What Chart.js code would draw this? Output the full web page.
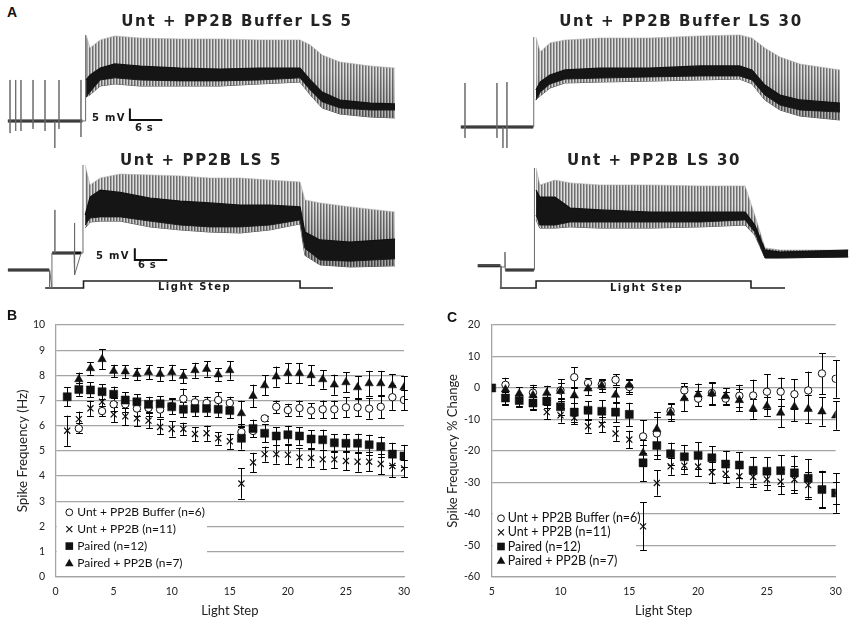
<!DOCTYPE html>
<html><head><meta charset="utf-8">
<script src="https://cdn.jsdelivr.net/npm/chart.js@4.4.1/dist/chart.umd.min.js"></script>
<style>
html,body{margin:0;padding:0;background:#fff;}
body{width:851px;height:622px;position:relative;overflow:hidden;}
canvas{position:absolute;}
.t{position:absolute;white-space:nowrap;color:#1a1a1a;font-family:"DejaVu Sans",sans-serif;z-index:5;}
.ttl{font-size:15px;font-weight:bold;letter-spacing:1.6px;line-height:16px;text-align:center;width:400px;color:#222;}
.sm{font-size:10px;font-weight:bold;line-height:10px;letter-spacing:1.3px;}
.lab{position:absolute;font-family:"Liberation Sans",Arial,sans-serif;font-weight:bold;font-size:14px;line-height:14px;color:#111;z-index:5;}
</style></head><body>

<div class="lab" style="left:7px;top:5px;">A</div>
<div class="lab" style="left:7px;top:308px;">B</div>
<div class="lab" style="left:447px;top:310px;">C</div>

<div class="t ttl" style="left:37px;top:13px;">Unt + PP2B Buffer LS 5</div>
<div class="t ttl" style="left:1px;top:152px;">Unt + PP2B LS 5</div>
<div class="t ttl" style="left:481px;top:13px;">Unt + PP2B Buffer LS 30</div>
<div class="t ttl" style="left:454px;top:152px;">Unt + PP2B LS 30</div>

<div class="t sm" style="left:92px;top:112.5px;">5 mV</div>
<div class="t sm" style="left:135px;top:122.5px;letter-spacing:0.6px;">6 s</div>
<div class="t sm" style="left:96px;top:250.5px;">5 mV</div>
<div class="t sm" style="left:138px;top:259.5px;letter-spacing:0.6px;">6 s</div>
<div class="t sm" style="left:158px;top:282px;letter-spacing:1.5px;">Light Step</div>
<div class="t sm" style="left:610px;top:283px;letter-spacing:1.5px;">Light Step</div>

<canvas id="trA1" width="395" height="127" style="left:5px;top:28px;"></canvas>
<canvas id="trA2" width="395" height="135" style="left:5px;top:158px;"></canvas>
<canvas id="trA3" width="421" height="127" style="left:430px;top:28px;"></canvas>
<canvas id="trA4" width="421" height="135" style="left:430px;top:158px;"></canvas>
<canvas id="chartB" width="425" height="322" style="left:0px;top:300px;"></canvas>
<canvas id="chartC" width="426" height="322" style="left:425px;top:300px;"></canvas>

<script>
// ================= DATA =================
// ---- Panel B: spike frequency (Hz) per light step ----
const stepsB = [1,2,3,4,5,6,7,8,9,10,11,12,13,14,15,16,17,18,19,20,21,22,23,24,25,26,27,28,29,30];
const bufferHz    = [null,5.89,null,6.58,6.85,6.85,6.68,6.7,6.64,6.78,7.07,6.93,6.9,7.02,6.9,5.75,5.79,6.29,6.75,6.62,6.7,6.6,6.65,6.65,6.73,6.73,6.68,6.75,7.13,7.02];
const bufferHzErr = [0,0.2,0,0.2,0.25,0.3,0.3,0.3,0.3,0.3,0.4,0.25,0.25,0.3,0.25,0.3,0.25,0.1,0.25,0.25,0.3,0.3,0.35,0.35,0.4,0.35,0.4,0.45,0.5,0.4];
const untHz       = [5.8,6.26,6.69,6.95,6.45,6.37,6.29,6.2,5.95,5.87,5.87,5.67,5.7,5.5,5.38,3.7,4.54,4.87,4.87,4.85,4.74,4.72,4.66,4.66,4.6,4.57,4.57,4.48,4.4,4.3];
const untHzErr    = [0.6,0.3,0.3,0.35,0.3,0.35,0.3,0.3,0.3,0.3,0.25,0.28,0.3,0.25,0.3,0.6,0.38,0.3,0.38,0.38,0.38,0.35,0.38,0.35,0.38,0.4,0.38,0.4,0.45,0.35];
const pairedHz    = [7.15,7.44,7.42,7.35,7.25,7.02,6.95,6.85,6.87,6.75,6.65,6.68,6.68,6.65,6.6,5.5,5.89,5.7,5.59,5.64,5.59,5.47,5.44,5.32,5.3,5.3,5.24,5.17,4.87,4.79];
const pairedHzErr = [0.37,0.25,0.3,0.3,0.3,0.3,0.3,0.3,0.3,0.3,0.3,0.3,0.3,0.3,0.3,0.45,0.35,0.35,0.35,0.35,0.35,0.35,0.4,0.35,0.35,0.38,0.4,0.4,0.45,0.45];
const pairedPP2BHz    = [null,7.84,8.28,8.64,8.17,8.15,8.05,8.12,8.05,8.12,7.97,8.2,8.25,8.03,8.2,6.49,7.18,7.6,7.95,8.08,8.08,8.0,7.84,7.63,7.72,7.52,7.68,7.68,7.6,7.52];
const pairedPP2BHzErr = [0,0.27,0.25,0.4,0.25,0.25,0.25,0.28,0.27,0.3,0.28,0.3,0.3,0.25,0.37,0.5,0.45,0.4,0.4,0.4,0.4,0.4,0.37,0.4,0.4,0.45,0.5,0.5,0.45,0.45];
const ticksB = {min:0, max:10, step:1};

// ---- Panel C: spike frequency % change per light step ----
const stepsC = [5,6,7,8,9,10,11,12,13,14,15,16,17,18,19,20,21,22,23,24,25,26,27,28,29,30];
const bufferPct    = [null,1.0,null,-1.5,null,-0.8,3.4,1.6,1.1,2.6,0.3,-15.4,-14.5,-7.4,-0.8,-3.4,-1.6,-3.4,-2.5,-2.4,-1.2,-1.2,-2.0,-0.8,4.6,2.9];
const bufferPctErr = [0,2.2,0,2.5,0,3.5,3.2,1.5,1.5,1.8,2.3,5.2,6.8,2.5,2.3,2.5,3.5,2.0,3.5,5.0,5.5,4.5,4.8,6.0,6.5,6.0];
const untPct       = [null,-3.2,-4.0,-4.8,-7.7,-8.7,-9.5,-12.2,-11.6,-14.5,-16.4,-44.0,-30.2,-24.9,-24.7,-25.0,-26.8,-27.3,-28.1,-28.3,-29.1,-29.8,-29.1,-30.9,-32.3,-33.4];
const untPctErr    = [0,2,2,2,2.3,2.3,2,2,2.5,2.3,2.8,7.6,4,2.7,2.5,3,3.3,3,3.5,3.2,3.3,4,4.3,4.3,5.5,3.5];
const pairedPct    = [0,-3.2,-4.0,-4.8,-4.2,-6.0,-7.7,-7.1,-7.4,-7.7,-8.4,-23.8,-18.3,-20.9,-21.9,-21.5,-22.2,-24.2,-24.5,-26.2,-26.5,-26.3,-27.0,-28.7,-32.3,-33.4];
const pairedPctErr = [0,2.3,1.8,2.3,2.3,2.7,3,2.8,3.5,3.2,3.7,5.8,4.3,3.5,3.8,4.2,3.7,4.2,4,4.3,4.5,5,5.5,6,6,6.3];
const pairedPP2BPct    = [null,-0.5,-1.8,-2.3,-1.6,-1.0,-2.4,-0.2,0.7,-2.2,0.8,-20.7,-13.1,-7.9,-3.3,-2.1,-1.8,-2.6,-3.9,-6.6,-5.8,-7.9,-6.0,-6.7,-7.5,-8.8];
const pairedPP2BPctErr = [0,2.5,2,2.5,2.3,2.5,2.5,2,2,2.5,2,4,4,2.7,4,3.5,3.5,2.5,3.5,3.2,3,4.5,4.5,4.5,4.5,4.5];
const ticksC = {min:-60, max:20, step:10};

const seriesLabels = ['Unt + PP2B Buffer (n=6)','Unt + PP2B (n=11)','Paired (n=12)','Paired + PP2B (n=7)'];

// ---- Panel A traces: time (s from light onset) and membrane potential (mV rel. rest) ----
// A1: Unt + PP2B Buffer LS 5
const a1Time    = [0.4,1.1,3.0,5.7,10.4,17.8,25.2,32.6,40.0,41.9,44.1,47.4,53.0,57.6];
const a1Peak    = [36.9,31.3,34.8,36.5,35.6,35.2,35.2,34.8,34.8,32.6,28.3,25.3,23.6,22.7];
const a1NoiseHi = [17.6,19.7,22.7,24.5,23.6,22.7,22.3,22.7,22.7,17.6,12.4,9.0,7.7,7.3];
const a1NoiseLo = [10.3,12.4,17.6,18.5,17.6,17.2,17.2,17.6,18.5,13.3,8.2,5.6,4.7,4.7];
const a1Trough  = [10.3,11.2,15.0,15.9,15.0,15.0,15.0,15.9,16.7,11.2,5.6,3.0,1.7,1.3];
const a1PreT = [-14.1,-13.7,-13.7,-13.7,-13.7,-12.65,-12.65,-12.65,-12.65,-11.67,-11.67,-11.67,-11.67,-9.44,-9.44,-9.44,-9.44,-7.22,-7.22,-7.22,-7.22,-5.4,-5.4,-5.4,-4.63,-4.63,-4.63,-4.63,-0.56,-0.56,-0.56,-0.56,0.3,0.3];
const a1PreV = [0,0,17.6,-5.2,0,0,17.6,-4.3,0,0,17.6,-4.3,0,0,17.6,-3.4,0,0,17.6,-4.3,0,0,-11.6,0,0,17.6,-3.4,0,0,17.6,-6.9,0,0,36.9];
const a1BaseT = [-14.1,-0.3];
const a1BaseV = [0,0];
const a1BarT = [8.5,8.5,14.5];
const a1BarV = [5.4,0.4,0.4];

// A2: Unt + PP2B LS 5
const a2Time    = [0.3,1.2,3.1,6.8,12.3,17.9,23.4,29.0,34.5,40.1,41.0,43.8,49.4,57.7];
const a2Peak    = [43.8,35.2,38.2,39.9,39.5,39.1,38.2,38.2,37.3,36.5,28.8,27.5,25.8,23.6];
const a2NoiseHi = [22.3,30.0,33.0,32.0,29.6,28.3,27.5,26.6,26.6,25.8,15.0,11.6,10.7,12.0];
const a2NoiseLo = [18.0,21.0,21.5,21.5,19.7,18.0,17.2,17.2,18.0,20.2,8.0,3.0,2.5,3.5];
const a2Trough  = [16.7,19.3,19.7,19.7,17.2,15.9,15.0,14.6,15.9,18.5,5.0,0.9,0.0,0.5];
const a2PreT = [-14.0,-6.3,-6.3,-6.25,-5.85,-5.85,-5.3,-5.3,-5.3,-1.76,-1.76,-1.6,-1.6,-0.45,-0.1,-0.1];
const a2PreV = [-1.3,-1.3,-9.0,-1.3,-9.0,6.0,6.0,24.5,6.0,6.0,18.9,6.0,-3.4,6.0,6.0,43.8];
const a2BaseT = [-14.0,-6.35,-6.0,-5.8,-0.4];
const a2BaseV = [-1.3,-1.3,null,6.0,6.0];
const a2BarT = [9.5,9.5,15.5];
const a2BarV = [8.0,3.0,3.0];
const a2LightT = [-7.1,0,0,40.1,40.1,46.2];
const a2LightOn = [0,0,1,1,0,0];

// A3: Unt + PP2B Buffer LS 30
const a3Time    = [0.3,1.1,2.9,5.7,12.2,21.4,30.7,38.0,40.3,42.7,45.5,49.2,56.6];
const a3Peak    = [38.6,32.2,36.1,37.3,38.2,38.2,39.1,39.5,38.2,33.9,30.0,27.0,24.5];
const a3NoiseHi = [15.9,19.3,22.3,24.5,25.3,25.3,26.2,26.2,24.5,18.0,13.7,11.6,10.3];
const a3NoiseLo = [11.6,15.0,18.5,20.6,21.0,21.5,21.9,21.9,20.2,13.7,9.4,7.3,6.4];
const a3Trough  = [11.6,13.3,16.7,18.9,19.3,19.7,20.2,20.6,18.5,11.6,7.3,4.7,3.0];
const a3PreT = [-13.6,-12.83,-12.83,-12.83,-12.83,-6.91,-6.91,-6.91,-6.91,-5.8,-5.8,-5.8,-5.06,-5.06,-5.06,-5.06,-0.1,-0.1];
const a3PreV = [0,0,18.9,-4.7,0,0,18.9,-4.7,0,0,-9.0,0,0,19.3,-9.0,0,0,38.6];
const a3BaseT = [-13.6,-0.2];
const a3BaseV = [0,0];

// A4: Unt + PP2B LS 30
const a4Time    = [0.2,0.9,3.7,6.5,12.0,21.3,30.6,38.9,40.7,42.6,45.4,58.0];
const a4Peak    = [42.5,35.2,37.3,36.1,35.2,35.2,34.8,34.8,22.3,8.2,7.3,7.3];
const a4NoiseHi = [33.0,30.0,30.0,25.3,24.5,23.6,23.6,23.6,18.0,7.3,6.4,7.3];
const a4NoiseLo = [22.3,18.0,18.0,19.3,19.3,19.3,19.3,20.2,15.0,3.9,3.9,4.3];
const a4Trough  = [20.2,16.7,16.7,17.2,16.7,16.7,17.2,18.0,13.7,3.9,3.9,4.3];
const a4PreT = [-10.6,-6.85,-6.3,-6.3,-6.2,-5.56,-5.56,-5.5,-0.1,-0.1];
const a4PreV = [0.5,0.5,0.5,-8.6,0,0,6.4,-1.3,-1.3,42.5];
const a4BaseT = [-10.6,-6.4,-6.0,-5.5,-0.2];
const a4BaseV = [0.5,0.5,null,-1.3,-1.3];
const a4LightT = [-6.5,0.2,0.2,40.0,40.0,46.3];
const a4LightOn = [0,0,1,1,0,0];

// ================= HELPERS =================
const pts = (xs, ys) => xs.map((x, i) => ({x: x, y: ys[i]}));

// dense "spike" texture: thin vertical lines, lighter toward the spike tips
function stripeCanvas(h) {
  const c = document.createElement('canvas'); c.width = 3; c.height = h;
  const g = c.getContext('2d');
  const cols = [['#6e6e6e', '#2e2e2e'], ['#a6a6a6', '#5a5a5a'], ['#dedede', '#8a8a8a']];
  cols.forEach((pair, i) => {
    const gr = g.createLinearGradient(0, 0, 0, h);
    gr.addColorStop(0, pair[0]); gr.addColorStop(0.35, pair[0]); gr.addColorStop(1, pair[1]);
    g.fillStyle = gr; g.fillRect(i, 0, 1, h);
  });
  return c;
}

function traceChart(id, d, range) {
  const cv = document.getElementById(id);
  const ctx = cv.getContext('2d');
  const pat = ctx.createPattern(stripeCanvas(cv.height), 'repeat');
  const ds = [
    {data: pts(d.t, d.hi), borderColor: '#111', borderWidth: 1.2, backgroundColor: '#151515', fill: '+1'},
    {data: pts(d.t, d.lo), borderColor: '#222', borderWidth: 1, fill: false},
    {data: pts(d.t, d.peak), borderColor: '#b0b0b0', borderWidth: 0.6, backgroundColor: pat, fill: '+1'},
    {data: pts(d.t, d.trough), borderColor: '#555', borderWidth: 1, fill: false},
    {data: pts(d.preT, d.preV), borderColor: '#6a6a6a', borderWidth: 1, fill: false},
    {data: pts(d.baseT, d.baseV), borderColor: '#111', borderWidth: 3, fill: false, spanGaps: false}
  ];
  if (d.barT) ds.push({data: pts(d.barT, d.barV), borderColor: '#111', borderWidth: 2, fill: false, borderCapStyle: 'butt'});
  if (d.lightT) ds.push({data: pts(d.lightT, d.lightOn), yAxisID: 'yL', borderColor: '#222', borderWidth: 1.6, fill: false});
  return new Chart(ctx, {
    type: 'line',
    data: {datasets: ds},
    options: {
      responsive: false, animation: false, events: [],
      layout: {padding: 0},
      elements: {point: {radius: 0}, line: {tension: 0, borderJoinStyle: 'miter'}},
      plugins: {legend: {display: false}, tooltip: {enabled: false}},
      scales: {
        x: {type: 'linear', display: false, min: range.x[0], max: range.x[1]},
        y: {type: 'linear', display: false, min: range.y[0], max: range.y[1]},
        yL: {type: 'linear', display: false, min: -0.714, max: 18.571}
      }
    }
  });
}

function drawMarker(ctx, style, x, y) {
  ctx.save();
  ctx.lineWidth = 1; ctx.strokeStyle = '#111'; ctx.fillStyle = '#111';
  ctx.beginPath();
  if (style === 'circle') {
    ctx.arc(x, y, 3.4, 0, Math.PI * 2); ctx.fillStyle = '#fff'; ctx.fill(); ctx.stroke();
  } else if (style === 'crossRot') {
    ctx.lineWidth = 1.2;
    ctx.moveTo(x - 3, y - 3); ctx.lineTo(x + 3, y + 3); ctx.moveTo(x + 3, y - 3); ctx.lineTo(x - 3, y + 3); ctx.stroke();
  } else if (style === 'rect') {
    ctx.fillRect(x - 3.8, y - 3.8, 7.6, 7.6);
  } else if (style === 'triangle') {
    ctx.moveTo(x, y - 4.3); ctx.lineTo(x + 4.3, y + 3.2); ctx.lineTo(x - 4.3, y + 3.2); ctx.closePath(); ctx.fill();
  }
  ctx.restore();
}

const boxLegendPlugin = {
  id: 'boxLegend',
  beforeDatasetsDraw(chart, args, o) {
    const {ctx, chartArea: a} = chart;
    ctx.save();
    ctx.fillStyle = '#fff';
    ctx.fillRect(a.left + 1.2, o.boxTop, o.boxRight - a.left - 1.2, a.bottom - 1.2 - o.boxTop);
    ctx.font = o.font; ctx.textBaseline = 'middle'; ctx.textAlign = 'left';
    chart.data.datasets.forEach((ds, i) => {
      const y = o.firstRow + i * o.rowGap;
      drawMarker(ctx, ds.pointStyle, o.markerX, y);
      ctx.fillStyle = '#111';
      ctx.fillText(ds.label, o.textX, y);
    });
    ctx.restore();
  }
};

const errorBarPlugin = {
  id: 'errorBars',
  beforeDatasetsDraw(chart) {
    const {ctx} = chart; const ys = chart.scales.y;
    ctx.save(); ctx.strokeStyle = '#000'; ctx.lineWidth = 1;
    chart.data.datasets.forEach((ds, i) => {
      const meta = chart.getDatasetMeta(i);
      meta.data.forEach((pt, j) => {
        const v = ds.data[j].y, e = ds.errorBars[j];
        if (v === null || v === undefined || !e) return;
        const x = Math.round(pt.x) + 0.5;
        const y1 = ys.getPixelForValue(v + e), y2 = ys.getPixelForValue(v - e);
        ctx.beginPath();
        ctx.moveTo(x, y1); ctx.lineTo(x, y2);
        ctx.moveTo(x - 3.4, Math.round(y1) + 0.5); ctx.lineTo(x + 3.4, Math.round(y1) + 0.5);
        ctx.moveTo(x - 3.4, Math.round(y2) + 0.5); ctx.lineTo(x + 3.4, Math.round(y2) + 0.5);
        ctx.stroke();
      });
    });
    ctx.restore();
  }
};

function statsChart(id, steps, vals, errs, tk, cfg) {
  const styles = [
    {pointStyle: 'circle', radius: 3.7, backgroundColor: '#fff', borderColor: '#111', borderWidth: 1, order: 4},
    {pointStyle: 'crossRot', radius: 4.3, backgroundColor: '#111', borderColor: '#111', borderWidth: 1.2, order: 3},
    {pointStyle: 'rect', radius: 5.7, backgroundColor: '#111', borderColor: '#111', borderWidth: 0.5, order: 2},
    {pointStyle: 'triangle', radius: 4.9, backgroundColor: '#111', borderColor: '#111', borderWidth: 0.5, order: 1}
  ];
  const datasets = vals.map((v, i) => ({
    label: seriesLabels[i],
    data: pts(steps, v),
    errorBars: errs[i],
    showLine: false,
    pointStyle: styles[i].pointStyle,
    pointRadius: styles[i].radius,
    pointBackgroundColor: styles[i].backgroundColor,
    pointBorderColor: styles[i].borderColor,
    pointBorderWidth: styles[i].borderWidth,
    order: styles[i].order
  }));
  const grey = '#a4a4a4';
  return new Chart(document.getElementById(id), {
    type: 'line',
    data: {datasets: datasets},
    plugins: [boxLegendPlugin, errorBarPlugin],
    options: {
      responsive: false, animation: false, events: [],
      layout: {padding: {left: 0, top: 25, right: cfg.padRight, bottom: 0}},
      plugins: {legend: {display: false}, tooltip: {enabled: false}, boxLegend: cfg.legend},
      scales: {
        x: {
          type: 'linear', min: cfg.xMin, max: 30,
          ticks: {stepSize: 5, padding: 9, color: '#222', font: {family: 'Lato', size: 10.5}, maxRotation: 0, autoSkip: false},
          grid: {display: false, drawTicks: false},
          border: {display: true, color: grey, width: 1.3},
          title: {display: true, text: 'Light Step', color: '#222', font: {family: 'Lato', size: 13}, padding: {top: 0, bottom: 3}},
          afterFit(s) { s.height = 45.3; }
        },
        y: {
          type: 'linear', min: tk.min, max: tk.max,
          ticks: {stepSize: tk.step, padding: cfg.yTickPad, color: '#222', font: {family: 'Lato', size: 10.5}},
          grid: {color: grey, lineWidth: 1.3, drawTicks: false},
          border: {display: true, color: grey, width: 1.3},
          title: {display: true, text: cfg.yTitle, color: '#222', font: {family: 'Lato', size: cfg.yTitleSize}, padding: {top: cfg.yTitlePad, bottom: 0}},
          afterFit(s) { s.width = cfg.yWidth; }
        }
      }
    }
  });
}

// ================= BUILD =================
traceChart('trA1', {t: a1Time, peak: a1Peak, hi: a1NoiseHi, lo: a1NoiseLo, trough: a1Trough,
  preT: a1PreT, preV: a1PreV, baseT: a1BaseT, baseV: a1BaseV, barT: a1BarT, barV: a1BarV},
  {x: [-14.63, 58.52], y: [-14.6, 39.9]});
traceChart('trA2', {t: a2Time, peak: a2Peak, hi: a2NoiseHi, lo: a2NoiseLo, trough: a2Trough,
  preT: a2PreT, preV: a2PreV, baseT: a2BaseT, baseV: a2BaseV, barT: a2BarT, barV: a2BarV,
  lightT: a2LightT, lightOn: a2LightOn},
  {x: [-14.54, 58.61], y: [-11.16, 46.78]});
traceChart('trA3', {t: a3Time, peak: a3Peak, hi: a3NoiseHi, lo: a3NoiseLo, trough: a3Trough,
  preT: a3PreT, preV: a3PreV, baseT: a3BaseT, baseV: a3BaseV},
  {x: [-19.31, 58.65], y: [-12.02, 42.49]});
traceChart('trA4', {t: a4Time, peak: a4Peak, hi: a4NoiseHi, lo: a4NoiseLo, trough: a4Trough,
  preT: a4PreT, preV: a4PreV, baseT: a4BaseT, baseV: a4BaseV, lightT: a4LightT, lightOn: a4LightOn},
  {x: [-19.44, 58.52], y: [-11.16, 46.78]});

statsChart('chartB', stepsB,
  [bufferHz, untHz, pairedHz, pairedPP2BHz],
  [bufferHzErr, untHzErr, pairedHzErr, pairedPP2BHzErr], ticksB,
  {xMin: 0, padRight: 21, yWidth: 55.6, yTickPad: 10.5, yTitle: 'Spike Frequency (Hz)', yTitleSize: 13.4, yTitlePad: 14.2,
   legend: {boxTop: 203, boxRight: 207, markerX: 69.3, textX: 77.3, firstRow: 212.3, rowGap: 16.9, font: '12px Lato'}});

statsChart('chartC', stepsC,
  [bufferPct, untPct, pairedPct, pairedPP2BPct],
  [bufferPctErr, untPctErr, pairedPctErr, pairedPP2BPctErr], ticksC,
  {xMin: 5, padRight: 15.3, yWidth: 66.7, yTickPad: 11.7, yTitle: 'Spike Frequency % Change', yTitleSize: 13, yTitlePad: 20.2,
   legend: {boxTop: 185, boxRight: 211, markerX: 76, textX: 82.7, firstRow: 218.3, rowGap: 14.1, font: '12.5px Lato'}});
</script>
</body></html>
